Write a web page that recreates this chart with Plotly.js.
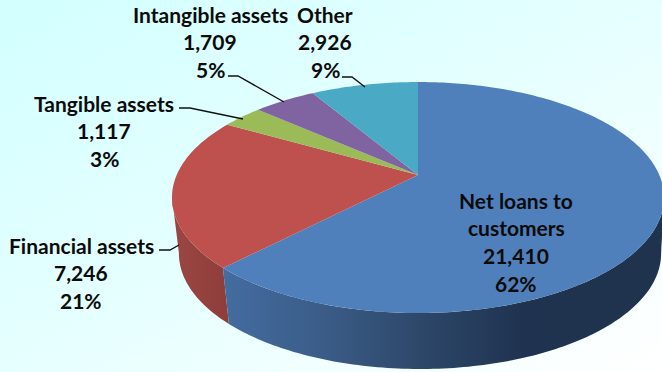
<!DOCTYPE html>
<html>
<head>
<meta charset="utf-8">
<script src="https://cdn.plot.ly/plotly-3.0.1.min.js"></script>
<style>
  html, body { margin: 0; padding: 0; }
  body { width: 662px; height: 372px; overflow: hidden;
         background: linear-gradient(to bottom right, #d2ffff 0%, #e6ffff 50%, #ffffff 100%); }
  #chart { width: 662px; height: 372px; }
</style>
</head>
<body>
<div id="chart"></div>
<script>
// Balance-sheet asset breakdown, clockwise from twelve o'clock.
const categories = ["Net loans to<br>customers", "Financial assets", "Tangible assets", "Intangible assets", "Other"];
const amounts = [21410, 7246, 1117, 1709, 2926];

const topColors = ["#4f80bc", "#be504d", "#9bbb59", "#8064a2", "#4aa9c5"];

// Centre of each text block and where its first line sits.
const labelAnchors = [
  { x: 516, y: 200 }, { x: 81, y: 245 }, { x: 104, y: 103 }, { x: 210, y: 14 }, { x: 325, y: 14 }
];
const lineStep = 27.8;

// Leader lines from labels to slices.
const leaders = [
  "M159,250 L170,250 L179,245",
  "M179,108 L190,108 L243,119",
  "M228,76 L238,76 L284,102",
  "M342,77 L352,77 L365,87"
];

// Perspective view of the disc: unit-circle points are projected so the rim is
// an ellipse whose hub sits behind its geometric centre.
const hub = { x: 418, y: 175 };
const halfW = 241.3, halfH = 111.1, tilt = 0.195;
// The lower rim is a little narrower and sits lower than the upper one.
const upperRim = { dx: 0, dy: 0, widthScale: 1 };
const lowerRim = { dx: 2, dy: 56, widthScale: 0.98 };

function rimPoint(deg, rim) {
  const t = deg * Math.PI / 180, u = Math.sin(t), v = Math.cos(t), d = 1 + tilt * v;
  return [hub.x + rim.dx + rim.widthScale * halfW * u / d, hub.y + rim.dy - halfH * v / d];
}
function arc(from, to, rim) {
  const n = Math.max(2, Math.ceil(Math.abs(to - from)));
  const pts = [];
  for (let i = 0; i <= n; i++) pts.push(rimPoint(from + (to - from) * i / n, rim));
  return pts;
}

const total = amounts.reduce((a, b) => a + b, 0);
let running = 0;
const spans = amounts.map(v => {
  const s = [running / total * 360, (running + v) / total * 360];
  running += v;
  return s;
});

// Angles at which the side wall leaves the silhouette of the disc.
const rightEdge = 101, leftEdge = 259;

function wallTrace(from, to, extra) {
  const pts = arc(from, to, upperRim).concat(arc(to, from, lowerRim));
  return Object.assign({
    type: "scatter", mode: "none", fill: "toself", hoverinfo: "skip", showlegend: false,
    x: pts.map(p => p[0]), y: pts.map(p => p[1])
  }, extra);
}

const traces = [
  wallTrace(spans[0][1], leftEdge, {
    name: "Financial assets side",
    fillgradient: { type: "horizontal", start: 172, stop: 232,
      colorscale: [[0, "#9b4643"], [1, "#8e3d3a"]] }
  }),
  wallTrace(rightEdge, spans[0][1], {
    name: "Net loans side",
    fillgradient: { type: "horizontal", start: 226, stop: 662,
      colorscale: [[0, "#436c9f"], [0.25, "#395a84"], [0.45, "#2d4769"], [0.68, "#1f3350"], [1, "#1f334e"]] }
  })
];

spans.forEach((s, i) => {
  const pts = [[hub.x, hub.y]].concat(arc(s[0], s[1], upperRim));
  pts.push([hub.x, hub.y]);
  traces.push({
    type: "scatter", mode: "none", fill: "toself", fillcolor: topColors[i],
    name: categories[i].replace("<br>", " "), showlegend: false,
    text: amounts[i].toLocaleString("en-US"), hoverinfo: "name+text", hoveron: "fills",
    x: pts.map(p => p[0]), y: pts.map(p => p[1])
  });
});

// Each text block: category, amount, rounded share.
const annotations = [];
categories.forEach((name, i) => {
  const lines = name.split("<br>").concat([
    amounts[i].toLocaleString("en-US"),
    Math.round(amounts[i] / total * 100) + "%"
  ]);
  lines.forEach((text, j) => annotations.push({
    x: labelAnchors[i].x, y: labelAnchors[i].y + j * lineStep,
    xref: "x", yref: "y", xanchor: "center", yanchor: "middle",
    text: text, showarrow: false,
    font: { family: "Lato, 'Open Sans', sans-serif", size: 21, color: "#0b0b0b", weight: 700 }
  }));
});

const layout = {
  width: 662, height: 372,
  margin: { l: 0, r: 0, t: 0, b: 0 },
  paper_bgcolor: "rgba(0,0,0,0)", plot_bgcolor: "rgba(0,0,0,0)",
  xaxis: { range: [0, 662], visible: false, fixedrange: true },
  yaxis: { range: [372, 0], visible: false, fixedrange: true },
  showlegend: false,
  annotations: annotations,
  shapes: leaders.map(path => ({
    type: "path", path: path, xref: "x", yref: "y",
    line: { color: "#111111", width: 1.4 }
  }))
};

Plotly.newPlot("chart", traces, layout, { displayModeBar: false, responsive: false });
</script>
</body>
</html>
